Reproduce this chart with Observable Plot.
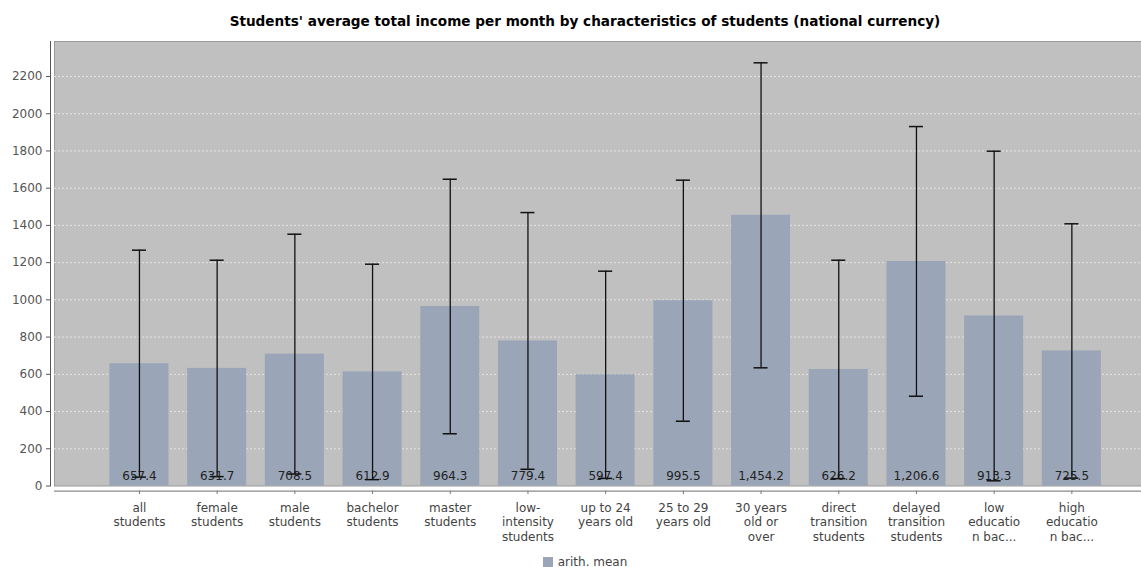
<!DOCTYPE html>
<html>
<head>
<meta charset="utf-8">
<script src="https://cdn.jsdelivr.net/npm/d3@7"></script>
<script src="https://cdn.jsdelivr.net/npm/@observablehq/plot@0.6"></script>
<style>
  html, body { margin: 0; padding: 0; background: #fff; overflow: hidden; }
  body { width: 1141px; height: 567px; font-family: "DejaVu Sans", sans-serif; }
  #title { width: 1170px; height: 33px; box-sizing: border-box; padding-top: 13px; text-align: center;
           font-weight: bold; font-size: 13.6px; line-height: 16px; color: #000; white-space: nowrap; }
  #chart svg { display: block; }
  #legend { width: 1170px; text-align: center; font-size: 12px; color: #444; height: 14px; line-height: 14px; margin-top: 2px; }
  #legend .sw { display: inline-block; width: 10px; height: 10px; background: #9aa6b8; vertical-align: -1px; margin-right: 5px; }
</style>
</head>
<body>
<div id="title">Students' average total income per month by characteristics of students (national currency)</div>
<div id="chart"></div>
<div id="legend"><span class="sw"></span>arith. mean</div>
<script>
const categories = [
  "all\nstudents", "female\nstudents", "male\nstudents", "bachelor\nstudents", "master\nstudents",
  "low-\nintensity\nstudents", "up to 24\nyears old", "25 to 29\nyears old", "30 years\nold or\nover",
  "direct\ntransition\nstudents", "delayed\ntransition\nstudents", "low\neducatio\nn bac...", "high\neducatio\nn bac..."
];
const means = [657.4, 631.7, 708.5, 612.9, 964.3, 779.4, 597.4, 995.5, 1454.2, 626.2, 1206.6, 913.3, 725.5];
const lows  = [47.8, 50.4, 64.3, 34.2, 280.6, 89.8, 40.8, 348.0, 634.9, 39.4, 482.2, 27.9, 42.4];
const highs = [1267.0, 1213.0, 1352.7, 1191.6, 1648.0, 1469.0, 1154.0, 1643.0, 2273.5, 1213.0, 1931.0, 1798.7, 1408.6];
const yTicks = [0, 200, 400, 600, 800, 1000, 1200, 1400, 1600, 1800, 2000, 2200];
const seriesName = "arith. mean";

const data = categories.map((c, i) => ({cat: c, mean: means[i], low: lows[i], high: highs[i]}));
const fmt = d3.format(",.1f");

const chart = Plot.plot({
  width: 1141,
  height: 520,
  marginLeft: 50,
  marginRight: 0,
  marginTop: 8,
  marginBottom: 67.5,
  style: {fontFamily: "DejaVu Sans, sans-serif", fontSize: "12px", color: "#555", background: "white"},
  x: {domain: categories, axis: null, round: false, paddingInner: 0.24, paddingOuter: 0.6405, align: 0.597},
  y: {domain: [0, 2388], ticks: yTicks, tickFormat: d => String(d), tickSize: 4, tickPadding: 4, line: true, label: null, grid: false},
  marks: [
    Plot.frame({fill: "#c0c0c0", stroke: "#9a9a9a", insetLeft: 4, insetRight: -1}),
    Plot.ruleY(yTicks.filter(d => d > 0), {y: d => d, stroke: "#e4e4e4", strokeDasharray: "2,2", strokeWidth: 1, insetLeft: 4}),
    Plot.barY(data, {x: "cat", y: "mean", fill: "#9aa6b8"}),
    Plot.ruleY([0], {dy: 5.2, stroke: "#8a8a8a", strokeWidth: 1.2, insetLeft: 4}),
    Plot.ruleX(categories, {x: d => d, y1: -27.9, y2: -45.7, stroke: "#777"}),
    Plot.text(data, {x: "cat", text: "cat", frameAnchor: "bottom", lineAnchor: "top", dy: 15.5, lineHeight: 1.21, fill: "#444", fontSize: 12}),
    Plot.text(data, {x: "cat", y: () => 0, text: d => fmt(d.mean), dy: -9.5, fill: "#222", fontSize: 12}),
    Plot.ruleX(data, {x: "cat", y1: "low", y2: "high", stroke: "#111", strokeWidth: 1.3}),
    Plot.tickY(data, {x: "cat", y: "high", stroke: "#111", strokeWidth: 1.5, inset: 22.5}),
    Plot.tickY(data, {x: "cat", y: "low", stroke: "#111", strokeWidth: 1.5, inset: 22.5})
  ]
});
document.getElementById("chart").appendChild(chart);
</script>
</body>
</html>
